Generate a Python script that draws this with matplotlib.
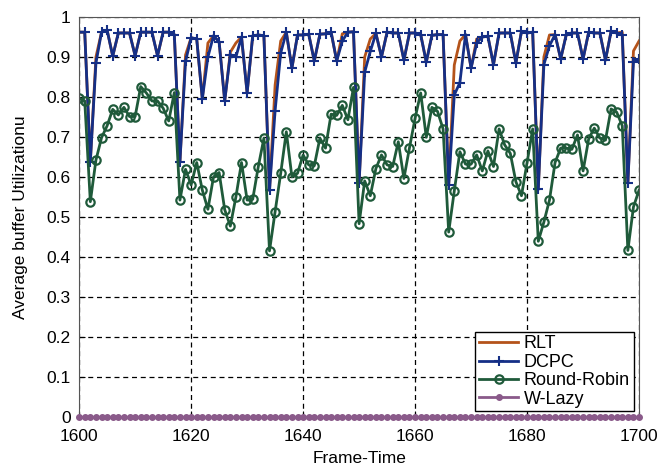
import matplotlib.pyplot as plt
import numpy as np

plt.rcParams['font.family'] = ['Liberation Sans', 'DejaVu Sans']

frames = np.arange(1600, 1701)

dcpc = [0.962, 0.962, 0.638, 0.885, 0.962, 0.967, 0.902, 0.960, 0.960, 0.960,
        0.903, 0.962, 0.962, 0.962, 0.903, 0.962, 0.962, 0.956, 0.638, 0.889,
        0.948, 0.945, 0.795, 0.900, 0.953, 0.938, 0.790, 0.906, 0.900, 0.950,
        0.810, 0.953, 0.955, 0.953, 0.566, 0.766, 0.910, 0.962, 0.872, 0.955,
        0.955, 0.957, 0.890, 0.957, 0.958, 0.962, 0.890, 0.940, 0.962, 0.963,
        0.585, 0.862, 0.914, 0.959, 0.900, 0.962, 0.960, 0.960, 0.892, 0.960,
        0.960, 0.956, 0.887, 0.954, 0.956, 0.956, 0.580, 0.805, 0.836, 0.956,
        0.872, 0.935, 0.950, 0.952, 0.881, 0.960, 0.960, 0.960, 0.885, 0.964,
        0.960, 0.962, 0.569, 0.881, 0.928, 0.956, 0.895, 0.956, 0.960, 0.960,
        0.895, 0.962, 0.960, 0.960, 0.892, 0.964, 0.960, 0.956, 0.585, 0.887,
        0.895]

# RLT follows DCPC except where it recovers faster after a dip
rlt = list(dcpc)
rlt_fix = {1603: 0.90, 1619: 0.905, 1623: 0.935, 1627: 0.912, 1628: 0.935,
           1635: 0.83, 1636: 0.94, 1647: 0.958, 1651: 0.90, 1652: 0.945,
           1667: 0.88, 1668: 0.94, 1671: 0.945, 1683: 0.90, 1684: 0.955,
           1697: 0.962, 1699: 0.915, 1700: 0.94}
for f, v in rlt_fix.items():
    rlt[f - 1600] = v

round_robin = [0.797, 0.790, 0.538, 0.642, 0.698, 0.728, 0.769, 0.755, 0.774, 0.751,
               0.751, 0.826, 0.810, 0.790, 0.790, 0.772, 0.740, 0.811, 0.542, 0.619,
               0.580, 0.636, 0.567, 0.519, 0.600, 0.611, 0.518, 0.477, 0.550, 0.636,
               0.542, 0.544, 0.626, 0.697, 0.415, 0.513, 0.609, 0.713, 0.600, 0.609,
               0.655, 0.630, 0.628, 0.697, 0.672, 0.757, 0.754, 0.779, 0.743, 0.824,
               0.483, 0.590, 0.553, 0.621, 0.655, 0.630, 0.626, 0.688, 0.596, 0.673,
               0.747, 0.810, 0.699, 0.774, 0.764, 0.720, 0.462, 0.565, 0.663, 0.632,
               0.632, 0.655, 0.615, 0.665, 0.626, 0.720, 0.680, 0.659, 0.588, 0.553,
               0.636, 0.720, 0.439, 0.487, 0.542, 0.636, 0.672, 0.672, 0.669, 0.705,
               0.615, 0.695, 0.722, 0.697, 0.692, 0.770, 0.762, 0.728, 0.416, 0.525,
               0.567]

w_lazy = [0.0] * len(frames)

fig = plt.figure(figsize=(6.65, 4.72), dpi=100)
ax = fig.add_axes([0.119, 0.117, 0.842, 0.847])

ax.plot(frames, rlt, color='#b4531a', lw=2, label='RLT')
ax.plot(frames, dcpc, color='#152f86', lw=2, marker='+', ms=7, mew=1.5, label='DCPC')
ax.plot(frames, round_robin, color='#1f5a3a', lw=2, marker='o', ms=6, mew=1.6,
        mfc='none', label='Round-Robin')
ax.plot(frames, w_lazy, color='#8a5a8a', lw=2, marker='o', ms=4, label='W-Lazy',
        clip_on=False, zorder=5)

ax.set_xlim(1600, 1700)
ax.set_ylim(0, 1)
ax.set_xticks(np.arange(1600, 1701, 20))
ax.set_yticks(np.arange(0, 1.01, 0.1))
ax.set_yticklabels(['0', '0.1', '0.2', '0.3', '0.4', '0.5', '0.6', '0.7', '0.8', '0.9', '1'])
ax.tick_params(direction='in', labelsize=12.5, length=4)
ax.tick_params(axis='x', pad=9)
ax.tick_params(axis='y', pad=6)
ax.grid(True, color='black', linestyle=(0, (4, 3)), lw=0.9)
for s in ax.spines.values():
    s.set_color('#555555')

ax.set_xlabel('Frame-Time', fontsize=12.5, labelpad=5)
ax.set_ylabel('Average buffer Utilizationu', fontsize=12.5, labelpad=13)

leg = ax.legend(loc='lower right', fontsize=13, fancybox=False, edgecolor='black',
                framealpha=1, borderpad=0.2, labelspacing=0.08, handlelength=2.2,
                handletextpad=0.3, borderaxespad=0.3)
leg.get_frame().set_linewidth(1.0)

fig.savefig('out.png', dpi=100)
